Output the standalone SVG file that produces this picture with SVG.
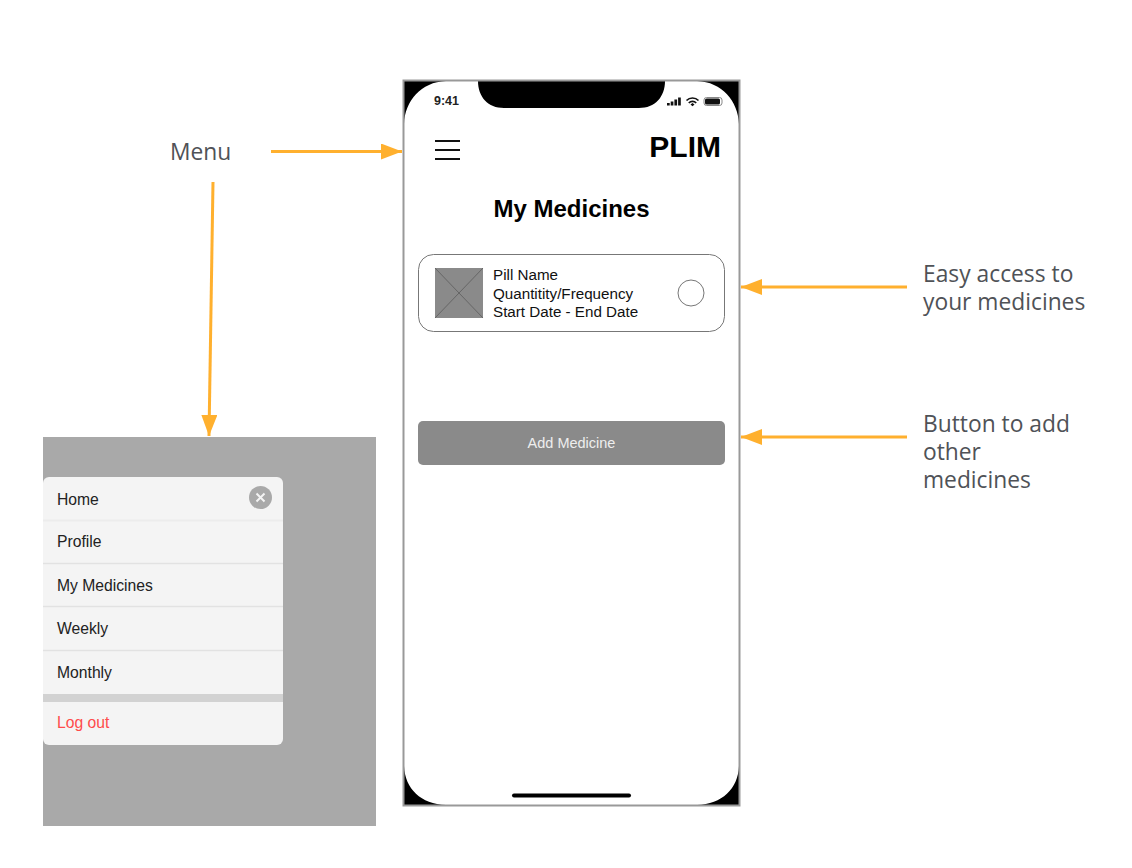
<svg xmlns="http://www.w3.org/2000/svg" width="1132" height="868" viewBox="0 0 1132 868">
<style>
.a{font-family:"Open Sans","Noto Sans",sans-serif;font-size:22.800px;fill:#4f5257}
.h{font-family:"Liberation Sans",Arial,sans-serif}
.m{font-family:"Liberation Sans",Arial,sans-serif;font-size:15.700px;fill:#222}
.c{font-family:"Liberation Sans",Arial,sans-serif;font-size:15.200px;fill:#111}
.s{stroke:#ffb02e;stroke-width:3;fill:none}
.d{stroke:#e2e2e2;stroke-width:1.5}
</style>
<defs><marker id="ah" markerUnits="userSpaceOnUse" markerWidth="22" markerHeight="16" refX="21" refY="8" orient="auto"><path d="M0 0L21 8L0 16Z" fill="#ffb02e"/></marker></defs>
<rect width="1132" height="868" fill="#fff"/>
<g id="phone">
<rect x="404" y="81" width="335" height="724" fill="#000"/>
<path d="M404 124C405 101 421 82 446 81H478C478 97 488 108 504 108H639C655 108 665 97 665 81H697C722 82 738 101 739 124V766C738 789 722 804 697 805H446C421 804 405 789 404 766Z" fill="#fff"/>
<rect x="403.500" y="80.500" width="336" height="725" fill="none" stroke="#999" stroke-width="2"/>
<text x="434" y="105" class="h" font-size="12.500" font-weight="700" fill="#222">9:41</text>
<path d="M667 103h2.700v2.500h-2.700zM670.700 101.500h2.700v4h-2.700zM674.400 99.500h2.700v6h-2.700zM678.100 97.500h2.700v8h-2.700z" fill="#111"/>
<path d="M686.500 100.500a8.500 8.500 0 0 1 12 0M688.800 103a5 5 0 0 1 7.400 0" fill="none" stroke="#111" stroke-width="1.700"/><path d="M690.500 104.500l2-1.500 2 1.500-2 1.700z" fill="#111"/>
<rect x="704" y="97.500" width="18" height="8" rx="2.500" fill="#fff" stroke="#888" stroke-width="1"/>
<rect x="705" y="98.500" width="15" height="6" rx="1.500" fill="#111"/>
<path d="M435 141H460M435 150H460M435 159H460" stroke="#111" stroke-width="1.800"/>
<text x="721" y="157" text-anchor="end" class="h" font-size="30" font-weight="700" fill="#000">PLIM</text>
<text x="571.500" y="217" text-anchor="middle" class="h" font-size="24" font-weight="700" fill="#000">My Medicines</text>
<path d="M514 795.500H629" stroke="#000" stroke-width="4" stroke-linecap="round"/>
</g>
<g id="medicine-card">
<rect x="418.500" y="254.500" width="306" height="77" rx="15" fill="#fff" stroke="#777" stroke-width="1"/>
<rect x="435" y="268" width="48" height="50" fill="#8a8a8a"/>
<path d="M435 268L483 318M483 268L435 318" stroke="#666" stroke-width="1"/>
<text class="c"><tspan x="493" y="280">Pill Name</tspan><tspan x="493" y="299">Quantitity/Frequency</tspan><tspan x="493" y="317">Start Date - End Date</tspan></text>
<circle cx="691" cy="293" r="13" fill="#fff" stroke="#777" stroke-width="1"/>
</g>
<g id="add-button">
<rect x="418" y="421" width="307" height="44" rx="5" fill="#8a8a8a"/>
<text x="571.500" y="448" text-anchor="middle" class="h" font-size="14.500" fill="#eee">Add Medicine</text>
</g>
<g id="menu-panel">
<rect x="43" y="437" width="333" height="389" fill="#a9a9a9"/>
<rect x="43" y="477" width="240" height="268" rx="6" fill="#f4f4f4"/>
<path d="M43 520.500H283" stroke="#ececec" stroke-width="2"/>
<path d="M43 563.500H283M43 606.500H283M43 650.500H283" class="d"/>
<rect x="43" y="694" width="240" height="8" fill="#d2d2d2"/>
<text class="m" x="57" y="504.500">Home</text>
<text class="m" x="57" y="547">Profile</text>
<text class="m" x="57" y="590.500">My Medicines</text>
<text class="m" x="57" y="634">Weekly</text>
<text class="m" x="57" y="677.500">Monthly</text>
<text x="57" y="728" class="h" font-size="15.700" fill="#ff4b4b">Log out</text>
<circle cx="260.500" cy="497.500" r="11.500" fill="#a9a9a9"/>
<path d="M256.500 493.500L264.500 501.500M264.500 493.500L256.500 501.500" stroke="#f4f4f4" stroke-width="2"/>
</g>
<g id="connectors">
<path class="s" d="M271 151.500H402" marker-end="url(#ah)"/>
<path class="s" d="M213 182L209 436" marker-end="url(#ah)"/>
<path class="s" d="M907 287H741" marker-end="url(#ah)"/>
<path class="s" d="M907 437H741" marker-end="url(#ah)"/>
</g>
<g id="label-menu"><text class="a" x="170" y="160">Menu</text></g>
<g id="label-access"><text class="a"><tspan x="923" y="282">Easy access to</tspan><tspan x="923" y="310">your medicines</tspan></text></g>
<g id="label-add"><text class="a"><tspan x="923" y="432">Button to add</tspan><tspan x="923" y="460">other</tspan><tspan x="923" y="488">medicines</tspan></text></g>
</svg>
